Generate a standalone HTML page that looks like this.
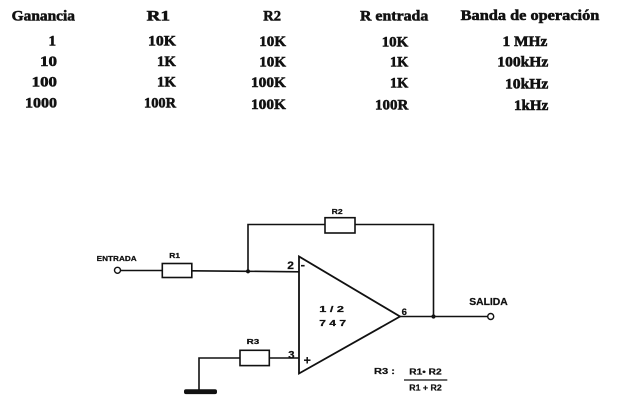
<!DOCTYPE html>
<html><head><meta charset="utf-8"><style>
html,body{margin:0;padding:0;background:#fff;}
svg{display:block;}
.t{font-family:"Liberation Serif",serif;font-weight:bold;font-size:15px;fill:#111;stroke:#111;stroke-width:0.55px;}
.s{font-family:"Liberation Sans",sans-serif;font-weight:bold;fill:#111;stroke:#111;stroke-width:0.25px;}
</style></head><body>
<svg width="625" height="412" viewBox="0 0 625 412" xmlns="http://www.w3.org/2000/svg">
<rect width="625" height="412" fill="#fff"/>
<!-- table headers -->
<g class="t">
<text x="11.7" y="20.5" textLength="63.3" lengthAdjust="spacingAndGlyphs">Ganancia</text>
<text x="146.7" y="20.5" textLength="23.3" lengthAdjust="spacingAndGlyphs">R1</text>
<text x="263.3" y="20.5" textLength="17.7" lengthAdjust="spacingAndGlyphs">R2</text>
<text x="360" y="20.5" textLength="68.3" lengthAdjust="spacingAndGlyphs">R entrada</text>
<text x="460.7" y="19.8" textLength="138.6" lengthAdjust="spacingAndGlyphs">Banda de operación</text>
<!-- col1 -->
<text x="56" y="45.5" text-anchor="end">1</text>
<text x="40" y="66" textLength="17" lengthAdjust="spacingAndGlyphs">10</text>
<text x="31.7" y="86.5" textLength="25.3" lengthAdjust="spacingAndGlyphs">100</text>
<text x="25" y="107.5" textLength="32" lengthAdjust="spacingAndGlyphs">1000</text>
<!-- col2 -->
<text x="148" y="45.5" textLength="28" lengthAdjust="spacingAndGlyphs">10K</text>
<text x="157" y="66" textLength="19" lengthAdjust="spacingAndGlyphs">1K</text>
<text x="157" y="86.5" textLength="19" lengthAdjust="spacingAndGlyphs">1K</text>
<text x="144" y="107.5" textLength="32" lengthAdjust="spacingAndGlyphs">100R</text>
<!-- col3 -->
<text x="259.3" y="46" textLength="26.7" lengthAdjust="spacingAndGlyphs">10K</text>
<text x="259.3" y="66.3" textLength="26.7" lengthAdjust="spacingAndGlyphs">10K</text>
<text x="251" y="87" textLength="35" lengthAdjust="spacingAndGlyphs">100K</text>
<text x="251" y="109" textLength="35" lengthAdjust="spacingAndGlyphs">100K</text>
<!-- col4 -->
<text x="381.7" y="46.5" textLength="26.6" lengthAdjust="spacingAndGlyphs">10K</text>
<text x="390" y="66.7" textLength="18.3" lengthAdjust="spacingAndGlyphs">1K</text>
<text x="390" y="87.3" textLength="18.3" lengthAdjust="spacingAndGlyphs">1K</text>
<text x="375" y="109.5" textLength="33.3" lengthAdjust="spacingAndGlyphs">100R</text>
<!-- col5 -->
<text x="502.5" y="46" textLength="44.8" lengthAdjust="spacingAndGlyphs">1 MHz</text>
<text x="497.3" y="66.7" textLength="51" lengthAdjust="spacingAndGlyphs">100kHz</text>
<text x="505" y="88.5" textLength="43.3" lengthAdjust="spacingAndGlyphs">10kHz</text>
<text x="514" y="110" textLength="34.3" lengthAdjust="spacingAndGlyphs">1kHz</text>
</g>

<!-- circuit -->
<g stroke="#111" stroke-width="1.6" fill="none">
<!-- input -->
<line x1="120.5" y1="270.5" x2="162" y2="270.5"/>
<rect x="162.3" y="263.5" width="29.5" height="14" fill="#fff"/>
<polyline points="191.8,270.8 248,271.3 299,271.8"/>
<!-- feedback -->
<polyline points="248,271.3 248,224.5 325,224.5"/>
<rect x="325" y="217.7" width="30" height="15.3" fill="#fff"/>
<polyline points="355,224.5 433.5,224.5 433.5,316.5"/>
<!-- op amp -->
<polygon points="299,256.5 299,373.5 400,316.5" stroke-width="1.8"/>
<!-- output -->
<line x1="400" y1="316.5" x2="487.7" y2="316.5"/>
<!-- R3 -->
<rect x="240" y="350.3" width="29.3" height="15.3" fill="#fff"/>
<line x1="269.3" y1="358" x2="299" y2="358"/>
<polyline points="240,358 199,358 199,390"/>
<!-- minus/plus -->
<line x1="301" y1="265.7" x2="304.6" y2="265.7" stroke-width="1.6"/>
<line x1="304" y1="360.2" x2="310.5" y2="360.2" stroke-width="1.5"/>
<line x1="307.2" y1="357" x2="307.2" y2="363.5" stroke-width="1.5"/>
<!-- fraction line -->
<line x1="404" y1="380" x2="447.3" y2="380" stroke-width="1.3"/>
</g>
<circle cx="117.5" cy="270.3" r="3" fill="#fff" stroke="#111" stroke-width="1.4"/>
<circle cx="490.7" cy="316.5" r="3" fill="#fff" stroke="#111" stroke-width="1.4"/>
<circle cx="248" cy="271.3" r="2.1" fill="#111"/>
<circle cx="433.5" cy="316.5" r="2.1" fill="#111"/>
<rect x="184" y="389.3" width="33" height="4.8" rx="2" fill="#111"/>

<g class="s">
<text x="96.7" y="261.2" font-size="7.5" textLength="40" lengthAdjust="spacingAndGlyphs">ENTRADA</text>
<text x="169.3" y="257.8" font-size="7.5" textLength="10.7" lengthAdjust="spacingAndGlyphs">R1</text>
<text x="331.7" y="214" font-size="7.5" textLength="11" lengthAdjust="spacingAndGlyphs">R2</text>
<text x="246.7" y="344.2" font-size="7.5" textLength="12.6" lengthAdjust="spacingAndGlyphs">R3</text>
<text x="469.3" y="305.2" font-size="10" textLength="38.4" lengthAdjust="spacingAndGlyphs">SALIDA</text>
<text x="287.3" y="269" font-size="11" textLength="6.7" lengthAdjust="spacingAndGlyphs">2</text>
<text x="288.3" y="358.3" font-size="11" textLength="6.3" lengthAdjust="spacingAndGlyphs">3</text>
<text x="401.7" y="315" font-size="9.5" textLength="5.3" lengthAdjust="spacingAndGlyphs">6</text>
<text x="319.3" y="311.8" font-size="8" textLength="24.7" lengthAdjust="spacingAndGlyphs">1 / 2</text>
<text x="319.3" y="326" font-size="8" textLength="26.7" lengthAdjust="spacingAndGlyphs">7 4 7</text>
<text x="374" y="374.2" font-size="8" textLength="21" lengthAdjust="spacingAndGlyphs">R3 :</text>
<text x="409.3" y="374.5" font-size="8" textLength="32.4" lengthAdjust="spacingAndGlyphs">R1• R2</text>
<text x="409.3" y="390.5" font-size="8" textLength="32.4" lengthAdjust="spacingAndGlyphs">R1 + R2</text>
</g>
</svg>
</body></html>
